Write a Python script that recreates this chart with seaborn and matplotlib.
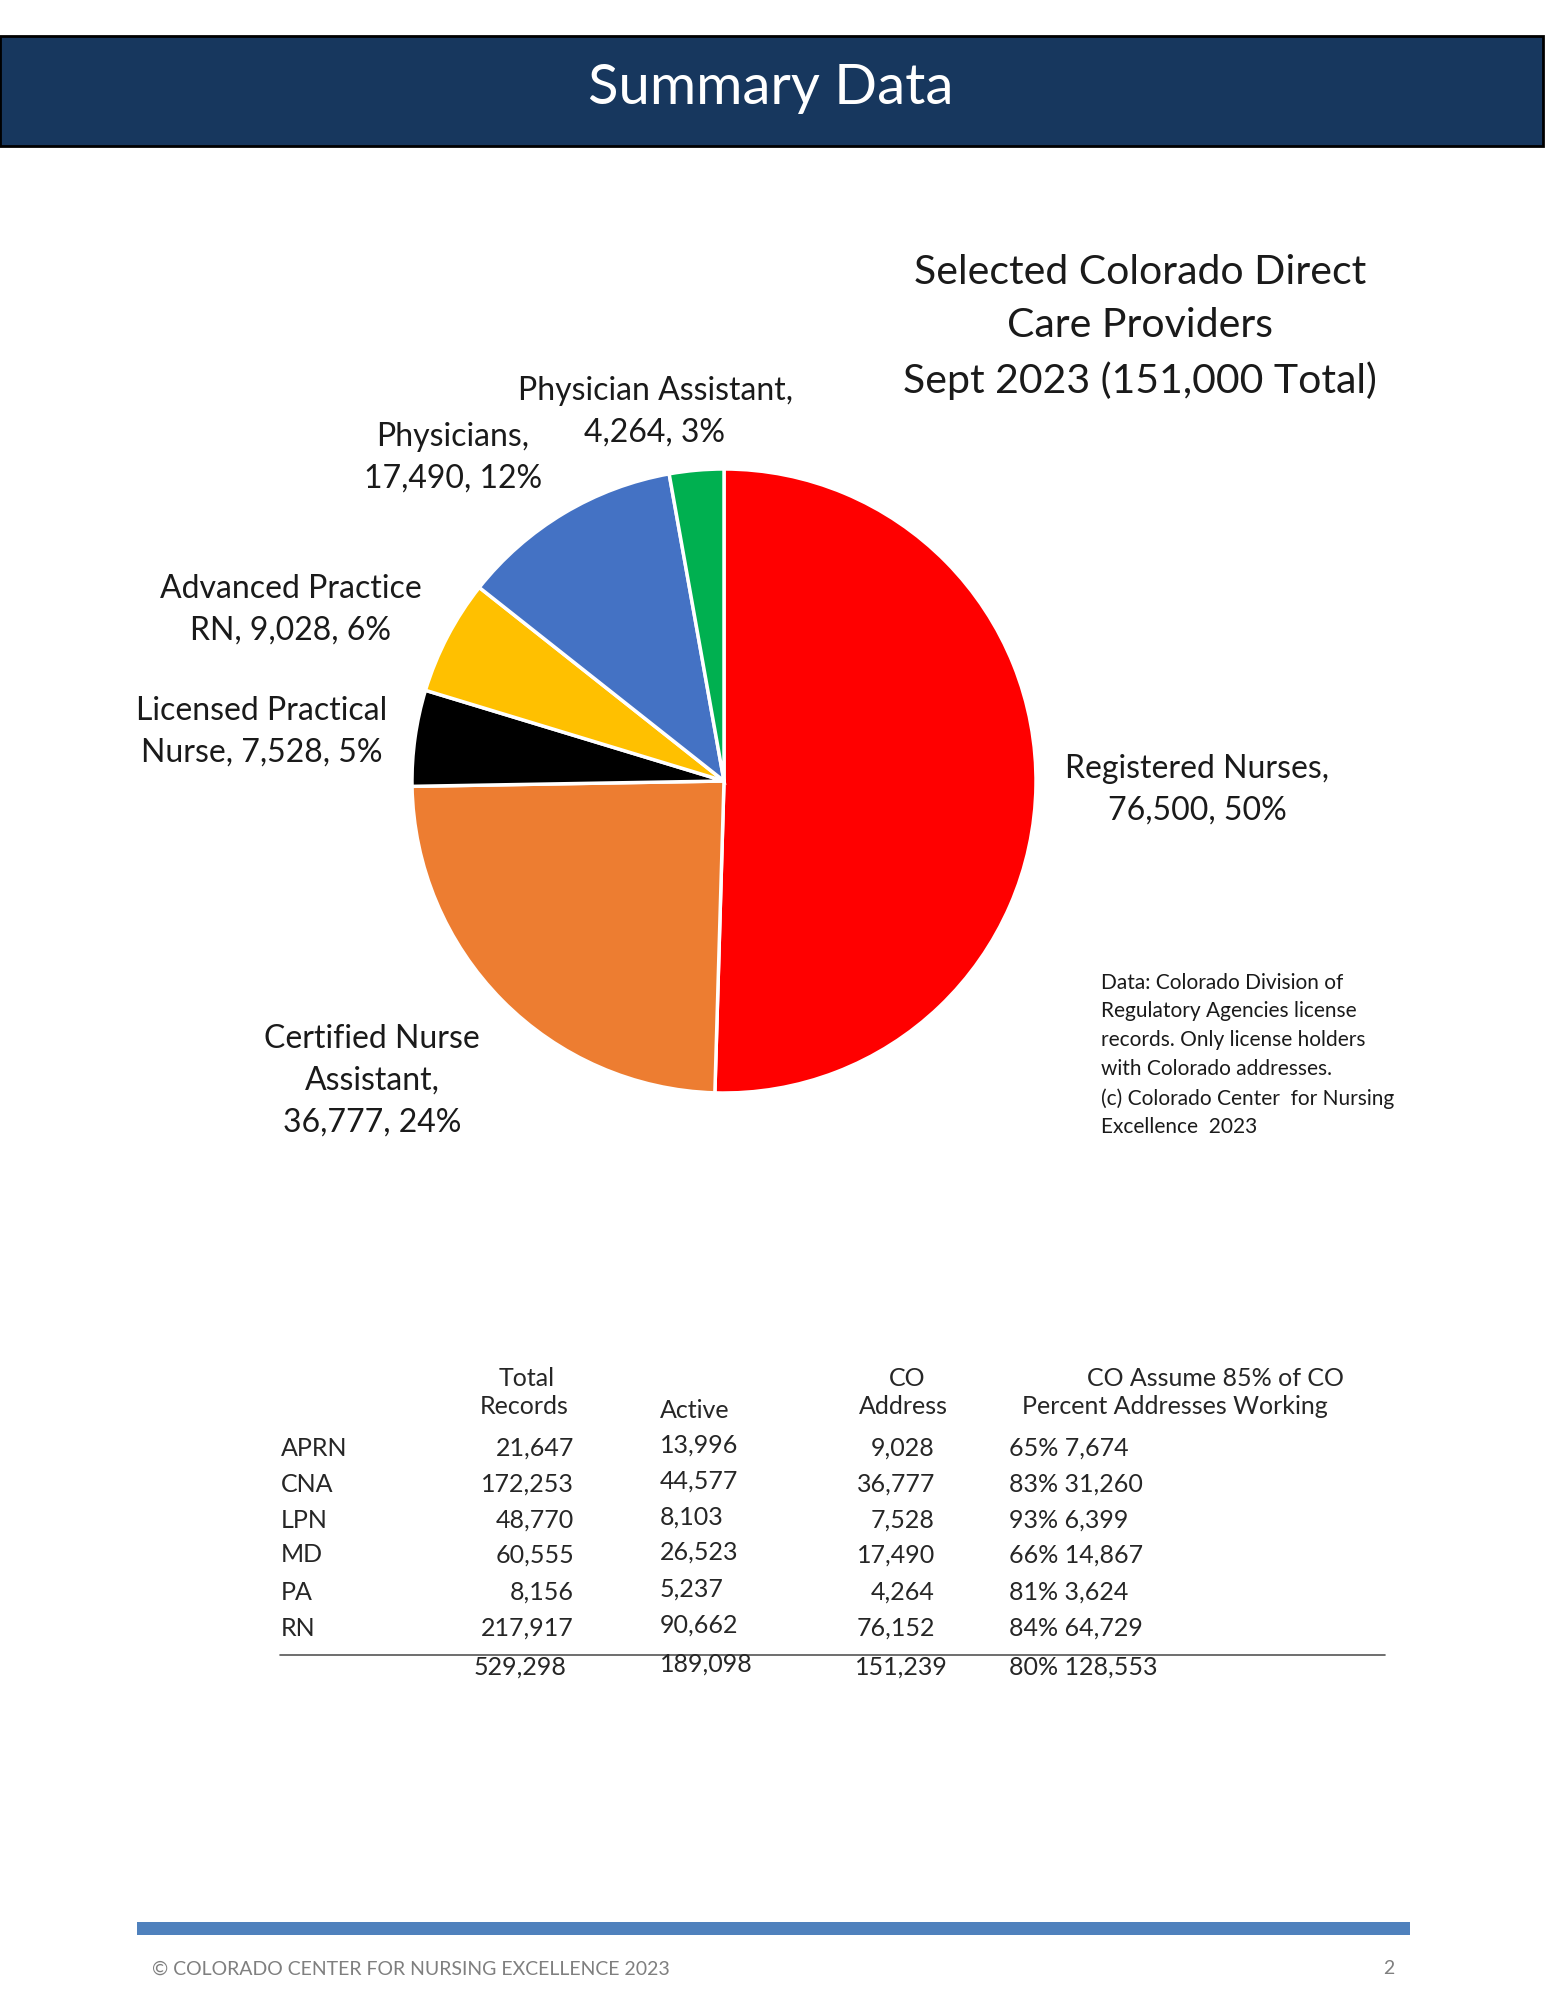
import matplotlib
matplotlib.use("Agg")
import matplotlib.pyplot as plt
import seaborn as sns

# =========================================================
# Data
# =========================================================

slice_names = [
    "Registered Nurses,\n",
    "Certified Nurse\nAssistant,\n",
    "Licensed Practical\nNurse, ",
    "Advanced Practice\nRN, ",
    "Physicians,\n",
    "Physician Assistant,\n",
]
slice_values = [76500, 36777, 7528, 9028, 17490, 4264]
slice_colors = ["#FF0000", "#ED7D31", "#000000", "#FFC000", "#4472C4", "#00B050"]

chart_title = "Selected Colorado Direct\nCare Providers\nSept 2023 (151,000 Total)"
source_note = ("Data: Colorado Division of\nRegulatory Agencies license\n"
               "records. Only license holders\nwith Colorado addresses.\n"
               "(c) Colorado Center  for Nursing\nExcellence  2023")

row_codes = ["APRN", "CNA", "LPN", "MD", "PA", "RN"]
total_records = [21647, 172253, 48770, 60555, 8156, 217917]
active = [13996, 44577, 8103, 26523, 5237, 90662]
co_address = [9028, 36777, 7528, 17490, 4264, 76152]
co_percent = [65, 83, 93, 66, 81, 84]
assume_working = [7674, 31260, 6399, 14867, 3624, 64729]

sum_records = 529298
sum_active = 189098
sum_co = 151239
sum_percent = 80
sum_working = 128553

# =========================================================
# Figure
# =========================================================

sns.set_theme(style="white")
plt.rcParams["font.family"] = ["Lato", "DejaVu Sans"]

W, H = 1545, 2000
fig = plt.figure(figsize=(W / 100, H / 100), dpi=100)
fig.patch.set_facecolor("white")

page = fig.add_axes([0, 0, 1, 1])
page.set_xlim(0, W)
page.set_ylim(H, 0)
page.axis("off")

# header band
page.add_patch(plt.Rectangle((0, 36), W - 2, 110, facecolor="#17375E",
                             edgecolor="#000000", linewidth=2, zorder=1))
page.text(771, 88, "Summary Data", color="white", fontsize=40.5,
          ha="center", va="center", zorder=2)

# pie
cx, cy, r = 724, 781, 312
pie_ax = fig.add_axes([(cx - r) / W, 1 - (cy + r) / H, 2 * r / W, 2 * r / H])
pie_ax.pie(
    slice_values,
    colors=slice_colors,
    startangle=90,
    counterclock=False,
    wedgeprops={"edgecolor": "white", "linewidth": 2.5},
)
pie_ax.set_xlim(-1, 1)
pie_ax.set_ylim(-1, 1)
pie_ax.set_aspect("equal")

total = sum(slice_values)
labels = [f"{n}{v:,}, {round(100 * v / total)}%" for n, v in zip(slice_names, slice_values)]
label_pos = [(1197, 790), (372, 1081), (262, 732), (291, 610), (453, 458), (655, 412)]
for lab, (x, y) in zip(labels, label_pos):
    page.text(x, y, lab, fontsize=23, ha="center", va="center",
              color="#1a1a1a", linespacing=1.5)

page.text(1140, 327, chart_title, fontsize=29.5, ha="center", va="center",
          color="#1a1a1a", linespacing=1.55)
page.text(1101, 1055, source_note, fontsize=15, ha="left", va="center",
          color="#1a1a1a", linespacing=1.55)

# table
tfs = 18
page.text(527, 1378, "Total", fontsize=tfs, ha="center", va="center")
page.text(524, 1406, "Records", fontsize=tfs, ha="center", va="center")
page.text(695, 1410, "Active", fontsize=tfs, ha="center", va="center")
page.text(907, 1378, "CO", fontsize=tfs, ha="center", va="center")
page.text(903, 1406, "Address", fontsize=tfs, ha="center", va="center")
page.text(1087, 1378, "CO Assume 85% of CO", fontsize=tfs, ha="left", va="center")
page.text(1022, 1406, "Percent Addresses Working", fontsize=tfs, ha="left", va="center")

row_y = [1448, 1484, 1520, 1555, 1592, 1628]
for i, y in enumerate(row_y):
    page.text(281, y, row_codes[i], fontsize=tfs, ha="left", va="center")
    page.text(574, y, f"{total_records[i]:,}", fontsize=tfs, ha="right", va="center")
    page.text(660, y - 3, f"{active[i]:,}", fontsize=tfs, ha="left", va="center")
    page.text(935, y, f"{co_address[i]:,}", fontsize=tfs, ha="right", va="center")
    page.text(1009, y, f"{co_percent[i]}% {assume_working[i]:,}", fontsize=tfs,
              ha="left", va="center")

page.plot([280, 1385], [1655, 1655], color="#555555", linewidth=1.2)
ty = 1667
page.text(566, ty, f"{sum_records:,}", fontsize=tfs, ha="right", va="center")
page.text(660, ty - 3, f"{sum_active:,}", fontsize=tfs, ha="left", va="center")
page.text(948, ty, f"{sum_co:,}", fontsize=tfs, ha="right", va="center")
page.text(1009, ty, f"{sum_percent}% {sum_working:,}", fontsize=tfs, ha="left", va="center")

# footer
page.add_patch(plt.Rectangle((137, 1922), 1273, 13, facecolor="#4F81BD",
                             edgecolor="none"))
page.text(152, 1969, "\u00a9 COLORADO CENTER FOR NURSING EXCELLENCE 2023",
          fontsize=14, color="#7F7F7F", ha="left", va="center")
page.text(1394, 1969, "2", fontsize=14, color="#7F7F7F", ha="right", va="center")

fig.savefig("out.png", dpi=100)
